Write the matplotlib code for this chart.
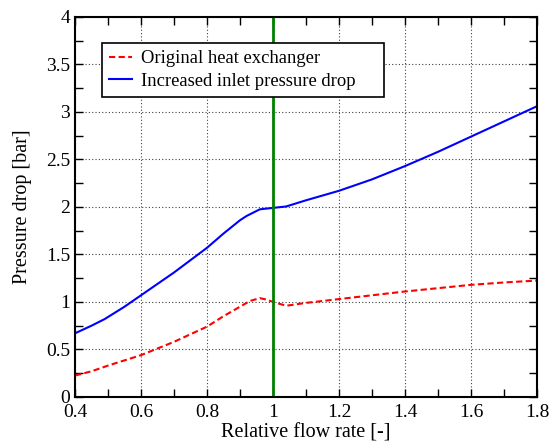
import matplotlib
matplotlib.use('Agg')
import matplotlib.pyplot as plt
from matplotlib.ticker import MultipleLocator

plt.rcParams['font.family'] = 'Liberation Serif'

x_orig = [0.4, 0.45, 0.5, 0.55, 0.6, 0.65, 0.7, 0.75, 0.8, 0.85, 0.9, 0.93,
          0.96, 0.98, 1.0, 1.04, 1.1, 1.2, 1.3, 1.4, 1.5, 1.6, 1.7, 1.8]
p_orig = [0.225, 0.27, 0.33, 0.385, 0.44, 0.51, 0.58, 0.66, 0.74, 0.85, 0.95, 1.01,
          1.04, 1.025, 1.0, 0.96, 0.99, 1.03, 1.07, 1.11, 1.145, 1.18, 1.205, 1.225]

x_inc = [0.4, 0.45, 0.49, 0.55, 0.6, 0.65, 0.7, 0.75, 0.8, 0.85, 0.9, 0.92,
         0.96, 1.0, 1.04, 1.1, 1.2, 1.3, 1.4, 1.5, 1.6, 1.7, 1.8]
p_inc = [0.67, 0.75, 0.82, 0.95, 1.07, 1.19, 1.31, 1.44, 1.57, 1.72, 1.86, 1.905,
         1.975, 1.99, 2.005, 2.07, 2.17, 2.29, 2.43, 2.58, 2.74, 2.9, 3.06]

design_flow = 1.0

fig = plt.figure(figsize=(5.57, 4.46), dpi=100)
ax = fig.add_axes([0.1347, 0.11, 0.8293, 0.852])

ax.plot(x_orig, p_orig, '--', color='red', linewidth=1.5, dashes=(3, 1.6),
        label='Original heat exchanger')
ax.plot(x_inc, p_inc, '-', color='blue', linewidth=1.5, label='Increased inlet pressure drop')
ax.axvline(design_flow, color='green', linewidth=2)

ax.set_xlim(0.4, 1.8)
ax.set_ylim(0, 4)
ax.xaxis.set_major_locator(MultipleLocator(0.2))
ax.xaxis.set_minor_locator(MultipleLocator(0.1))
ax.yaxis.set_major_locator(MultipleLocator(0.5))
ax.yaxis.set_minor_locator(MultipleLocator(0.25))
ax.xaxis.set_major_formatter(plt.FuncFormatter(lambda v, p: f'{v:g}'))
ax.yaxis.set_major_formatter(plt.FuncFormatter(lambda v, p: f'{v:g}'))
ax.tick_params(which='both', direction='in', top=True, right=True, labelsize=14)
ax.tick_params(which='both', length=6, width=1)
ax.tick_params(axis='x', pad=5)
ax.grid(True, which='major', linestyle=(0, (1, 2)), color='0.25', linewidth=0.8)
for s in ax.spines.values():
    s.set_linewidth(1.5)

ax.set_xlabel('Relative flow rate [-]', fontsize=14.5, labelpad=2)
ax.set_ylabel('Pressure drop [bar]', fontsize=14.5, labelpad=10)

leg = ax.legend(loc='upper left', bbox_to_anchor=(0.058, 0.932, 0.610, 0), mode='expand',
                fontsize=13.4, fancybox=False, edgecolor='black', framealpha=1,
                borderaxespad=0, handlelength=1.2, handletextpad=0.5,
                labelspacing=0.3, borderpad=0.4)
leg.get_frame().set_linewidth(1.2)

fig.savefig('out.png', dpi=100)
